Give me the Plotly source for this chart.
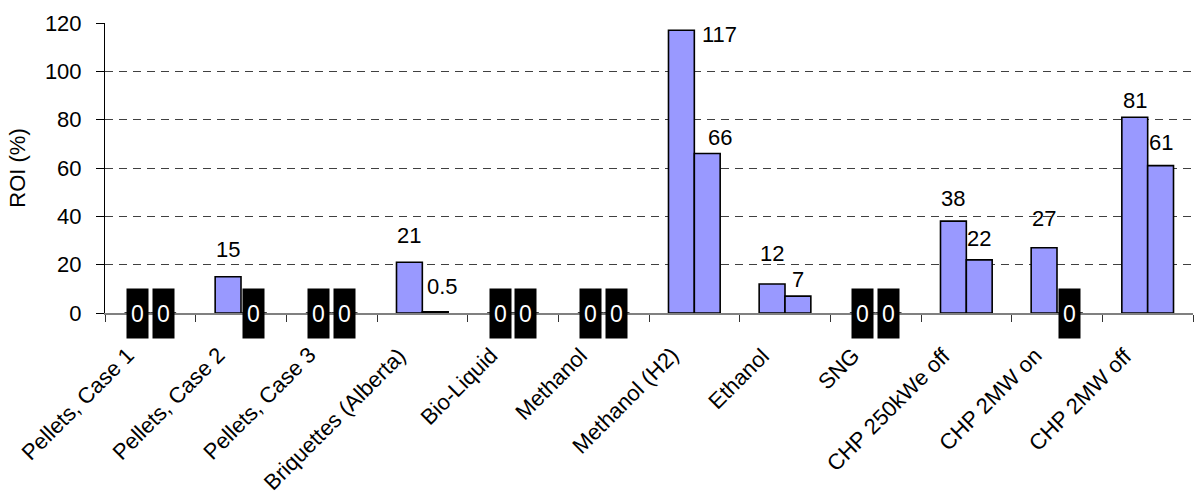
import plotly.graph_objects as go

categories = [
    "Pellets, Case 1", "Pellets, Case 2", "Pellets, Case 3", "Briquettes (Alberta)",
    "Bio-Liquid", "Methanol", "Methanol (H2)", "Ethanol", "SNG",
    "CHP 250kWe off", "CHP 2MW on", "CHP 2MW off",
]
roi_first = [0, 15, 0, 21, 0, 0, 117, 12, 0, 38, 27, 81]
roi_second = [0, 0, 0, 0.5, 0, 0, 66, 7, 0, 22, 0, 61]
y_ticks = [0, 20, 40, 60, 80, 100, 120]

FONT = "Liberation Sans, Arial, sans-serif"
BAR_FILL = "#9999ff"
GROUP_WIDTH = 0.57          # fraction of a category occupied by the bar pair
HALF = GROUP_WIDTH / 4      # offset of each bar centre from the category centre

fig = go.Figure()
for vals in (roi_first, roi_second):
    fig.add_trace(go.Bar(
        x=list(range(len(categories))), y=vals,
        marker=dict(color=BAR_FILL, line=dict(color="black", width=1.6)),
        showlegend=False, hoverinfo="skip",
    ))

# per-label pixel nudges (series, category) -> (dx, dy)
nudge = {
    (0, 6): (38, -27),
    (1, 6): (13, -7),
    (1, 3): (7, 2),
    (0, 1): (0, 4),
    (0, 3): (0, 4),
    (0, 7): (0, 8),
    (1, 7): (0, -6),
    (0, 10): (0, 6),
    (0, 11): (0, -6),
    (1, 9): (0, -2),
}
annotations = []
for s, vals in enumerate((roi_first, roi_second)):
    sign = -1 if s == 0 else 1
    for i, v in enumerate(vals):
        xpos = i + sign * HALF
        if v == 0:
            annotations.append(dict(
                x=xpos, y=0, xref="x", yref="y", text="0", showarrow=False,
                font=dict(family=FONT, size=23, color="white"),
                bgcolor="black", width=21, height=49, borderpad=0,
                xanchor="center", yanchor="middle", valign="middle",
            ))
        else:
            dx, dy = nudge.get((s, i), (0, 0))
            annotations.append(dict(
                x=xpos, y=v, xref="x", yref="y", text=f"{v:g}", showarrow=False,
                font=dict(family=FONT, size=22, color="black"),
                xanchor="center", yanchor="middle",
                xshift=dx, yshift=23 + dy,
            ))

# slanted category names hanging below the axis
for i, name in enumerate(categories):
    annotations.append(dict(
        x=i, y=0, xref="x", yref="y", text=name, showarrow=False,
        textangle=-45, font=dict(family=FONT, size=22, color="black"),
        xanchor="right", yanchor="top", xshift=-8, yshift=-27,
    ))

fig.update_layout(
    width=1198, height=497,
    margin=dict(l=105, r=5, t=23, b=184, autoexpand=False),
    paper_bgcolor="white", plot_bgcolor="white",
    barmode="group", bargap=1 - GROUP_WIDTH, bargroupgap=0,
    font=dict(family=FONT, size=22, color="black"),
    annotations=annotations,
    xaxis=dict(
        tickmode="array", tickvals=list(range(len(categories))),
        showticklabels=False,
        range=[-0.5, len(categories) - 0.5],
        showline=True, linecolor="#808080", linewidth=1.5,
        showgrid=False, zeroline=False, ticks="",
        minor=dict(tickmode="linear", tick0=0.5, dtick=1, ticks="outside",
                   ticklen=7, tickwidth=1, tickcolor="#333333", showgrid=False),
    ),
    yaxis=dict(
        range=[0, 120], tickvals=y_ticks, tickfont=dict(family=FONT, size=22),
        ticklabelstandoff=10,
        title=dict(text="ROI (%)", font=dict(family=FONT, size=22), standoff=13),
        showline=True, linecolor="black", linewidth=1,
        ticks="outside", ticklen=8, tickcolor="black",
        showgrid=True, gridcolor="#404040", gridwidth=1, griddash="8px,6px",
        zeroline=False,
    ),
)

fig.write_html("out.html")
